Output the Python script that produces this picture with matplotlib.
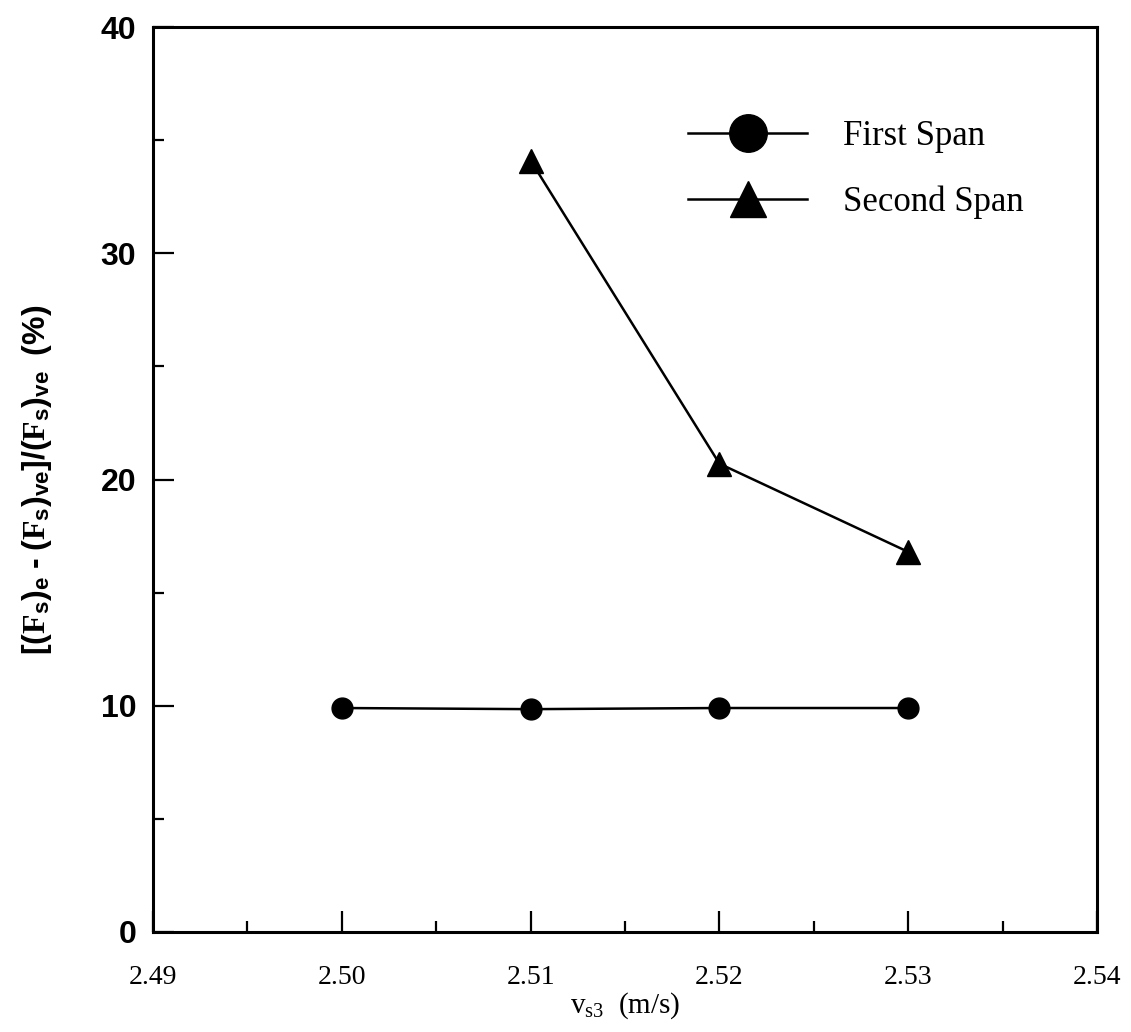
import matplotlib
matplotlib.use("Agg")
import matplotlib.pyplot as plt
from matplotlib.lines import Line2D
from matplotlib.ticker import MultipleLocator

# Datos
v_first = [2.50, 2.51, 2.52, 2.53]
err_first = [9.9, 9.85, 9.9, 9.9]
v_second = [2.51, 2.52, 2.53]
err_second = [34.1, 20.7, 16.8]

plt.rcParams['mathtext.fontset'] = 'custom'
plt.rcParams['mathtext.rm'] = 'Liberation Serif'
plt.rcParams['mathtext.it'] = 'Liberation Serif:italic'
plt.rcParams['mathtext.bf'] = 'Liberation Serif:bold'
plt.rcParams['mathtext.sf'] = 'Liberation Sans:bold'

SERIF = 'Liberation Serif'
SANS = 'Liberation Sans'

fig = plt.figure(figsize=(11.31, 10.32), dpi=100)
ax = fig.add_axes([0.1353, 0.0969, 0.8347, 0.8769])

ax.plot(v_first, err_first, color='black', lw=1.8, marker='o', ms=15,
        markerfacecolor='black', markeredgecolor='black')
ax.plot(v_second, err_second, color='black', lw=1.8, marker='^', ms=17,
        markerfacecolor='black', markeredgecolor='black')

ax.set_xlim(2.49, 2.54)
ax.set_ylim(0, 40)
ax.xaxis.set_minor_locator(MultipleLocator(0.005))
ax.yaxis.set_minor_locator(MultipleLocator(5))
ax.set_xticks([2.49, 2.50, 2.51, 2.52, 2.53, 2.54])
ax.set_xticklabels(['2.49', '2.50', '2.51', '2.52', '2.53', '2.54'],
                   family=SERIF, fontsize=20)
ax.set_yticks([0, 10, 20, 30, 40])
ax.set_yticklabels(['0', '10', '20', '30', '40'], family=SANS,
                   fontweight='bold', fontsize=23)

ax.tick_params(which='both', direction='in', top=False, right=False, width=1.6)
ax.tick_params(which='major', length=15)
ax.tick_params(which='minor', length=8)
ax.tick_params(axis='x', which='major', pad=24)
ax.tick_params(axis='y', which='major', pad=12)

for s in ax.spines.values():
    s.set_linewidth(2.2)

ax.set_xlabel(r'v$_{\rm s3}$  (m/s)', family=SERIF, fontsize=21, labelpad=0)

# F en serif negrita, el resto en sans negrita (como en el original)
ylab = ('$\\mathsf{[(}\\mathbf{F}_\\mathsf{s}\\mathsf{)}_\\mathsf{e}'
        '\\mathsf{\\ \u2010\\ (}\\mathbf{F}_\\mathsf{s}\\mathsf{)}_\\mathsf{ve}'
        '\\mathsf{]/(}\\mathbf{F}_\\mathsf{s}\\mathsf{)}_\\mathsf{ve}'
        '\\mathsf{\\ \\ (\\%)}$')
ax.set_ylabel(ylab, fontsize=23, labelpad=34)

handles = [
    Line2D([], [], color='black', lw=1.8, marker='o', ms=27,
           markerfacecolor='black', label='First Span'),
    Line2D([], [], color='black', lw=1.8, marker='^', ms=26,
           markerfacecolor='black', label='Second Span'),
]
ax.legend(handles=handles, loc='upper left', bbox_to_anchor=(0.5667, 0.897),
          frameon=False, prop={'family': SERIF, 'size': 25},
          handlelength=3.43, handletextpad=1.04, labelspacing=0.92,
          borderpad=0, borderaxespad=0)

fig.savefig('out.png', dpi=100)
